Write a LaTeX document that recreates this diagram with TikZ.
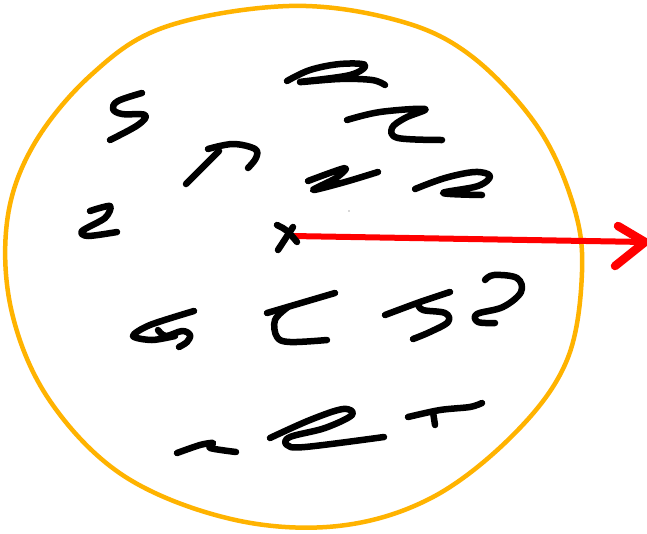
\documentclass[tikz,border=0pt]{standalone}
\begin{document}
\begin{tikzpicture}[x=1pt,y=-1pt,
  ink/.style={line width=6.5pt,line cap=round,line join=round,black},
  rim/.style={line width=4.5pt,color=amber,line join=round},
  redline/.style={line width=6pt,color=red,line cap=round,line join=round}]
\definecolor{amber}{HTML}{FFB300}
\useasboundingbox[fill=white] (0,0) rectangle (647,533);
% orange circle
\draw[rim] plot[smooth cycle,tension=0.6] coordinates {
 (289,6) (396,20) (470,55) (537,126) (573,204) (582,272) (567,360)
 (516,432) (433,497) (338,526) (231,519) (124,476) (50,401) (12,313)
 (7,222) (33,146) (91,75) (165,27)};
% named points
\coordinate (center) at (292,236);
\coordinate (tip) at (645,242);
\coordinate (headtop) at (618,226);
\coordinate (headbot) at (615,266);
% red arrow
\draw[redline] (center) -- (tip);
\draw[redline,line width=8.5pt] (headtop) -- (tip) -- (headbot);
% x mark
\draw[ink] (277,225) .. controls (287,230) .. (297,242);
\draw[ink] (293,227) .. controls (285,238) .. (278,250);
% squiggles
\draw[ink] plot[smooth,tension=0.6] coordinates {(142,93) (118,101) (113,109) (122,114) (145,115) (138,125) (110,140)};
\draw[ink] (186,184) -- (219,151);
\draw[ink] plot[smooth,tension=0.6] coordinates {(208,149) (233,144) (255,149) (256,158) (248,168)};
\draw[ink] plot[smooth,tension=0.5] coordinates {(90,211) (110,206) (105,218) (82,231) (88,236) (117,232)};
\draw[ink] plot[smooth,tension=0.6] coordinates {(287,81) (310,70) (340,64) (365,65) (350,75) (300,82) (340,79) (372,80) (385,85)};
\draw[ink] plot[smooth,tension=0.6] coordinates {(347,120) (380,112) (425,109) (405,118) (392,128) (398,138) (442,140)};
\draw[ink] plot[smooth,tension=0.5] coordinates {(308,181) (345,168) (336,178) (313,190) (345,182) (378,172)};
\draw[ink] plot[smooth,tension=0.6] coordinates {(415,189) (445,178) (475,172) (490,176) (478,186) (443,193) (482,195)};
\fill[gray!60] (349,211) circle (0.8pt);
\draw[ink] plot[smooth,tension=0.5] coordinates {(194,311) (150,325) (133,336) (152,340) (175,336)};
\draw[ink] plot[smooth,tension=0.6] coordinates {(158,330) (166,336) (182,331) (190,335) (187,342) (179,347)};
\draw[ink] (267,313) -- (335,293);
\draw[ink] plot[smooth,tension=0.6] coordinates {(288,307) (275,320) (277,337) (290,342) (327,340)};
\draw[ink] plot[smooth,tension=0.5] coordinates {(385,315) (420,302) (450,292)};
\draw[ink] plot[smooth,tension=0.6] coordinates {(418,304) (423,310) (445,313) (448,322) (430,332) (413,339)};
\draw[ink] plot[smooth,tension=0.6] coordinates {(485,280) (494,275) (517,278) (521,292) (503,307) (477,314) (478,322) (495,323)};
\draw[ink] plot[smooth,tension=0.5] coordinates {(177,453) (200,445) (213,443) (210,448) (236,452)};
\draw[ink] plot[smooth,tension=0.6] coordinates {(270,438) (310,420) (343,409) (352,415) (325,428) (290,437) (287,445) (305,447) (384,437)};
\draw[ink] plot[smooth,tension=0.5] coordinates {(408,417) (440,410) (470,407) (482,403)};
\draw[ink] (433,412) -- (435,425);
\end{tikzpicture}
\end{document}
